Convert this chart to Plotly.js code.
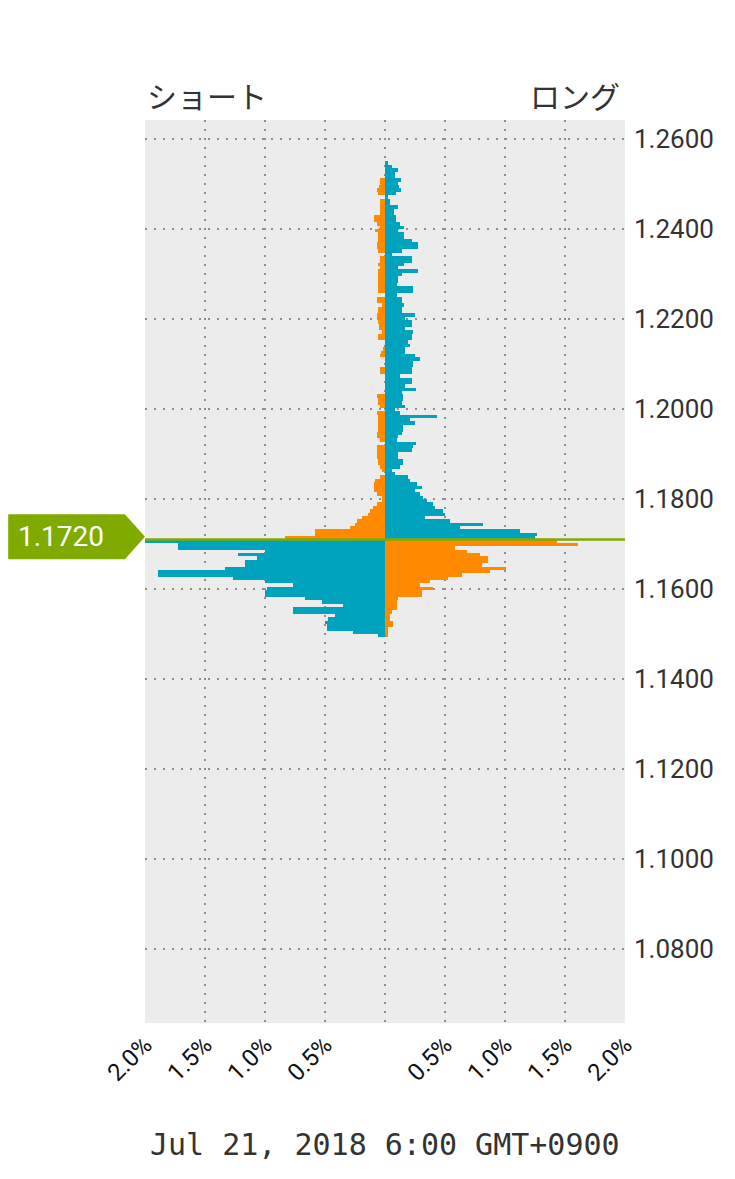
<!DOCTYPE html>
<html><head><meta charset="utf-8">
<script src="https://cdn.plot.ly/plotly-3.0.1.min.js"></script>
<style>html,body{margin:0;padding:0;background:#fff;}#chart{width:735px;height:1179px;}</style>
</head><body><div id="chart"></div>
<script>
// ---- data ----
const bucketTop = 1.2550;        // upper edge of the first price bucket
const bucketStep = 0.00075;      // bucket height (price)
const currentPrice = 1.1710;     // position of the current-price line
const currentPriceLabel = '1.1720';
// percent of positions per bucket, from top bucket downward
const longPct = [
0.025,0.058,0.108,0.083,0.083,0.133,0.108,0.117,0.133,0.092,
0.025,0.042,0.042,0.108,0.075,0.075,0.092,0.092,0.125,0.158,
0.108,0.158,0.158,0.225,0.275,0.275,0.142,0.058,0.225,0.225,
0.158,0.108,0.275,0.142,0.108,0.108,0.1,0.233,0.233,0.1,
0.142,0.142,0.158,0.142,0.142,0.25,0.167,0.225,0.225,0.167,
0.233,0.225,0.225,0.192,0.208,0.167,0.167,0.25,0.292,0.233,
0.233,0.225,0.225,0.125,0.225,0.225,0.167,0.258,0.142,0.15,
0.15,0.142,0.167,0.083,0.125,0.433,0.208,0.25,0.15,0.15,
0.142,0.108,0.1,0.258,0.233,0.225,0.108,0.108,0.15,0.15,
0.125,0.058,0.083,0.192,0.208,0.267,0.308,0.25,0.292,0.317,
0.35,0.4,0.417,0.483,0.5,0.333,0.542,0.817,0.625,1.125,
1.267,1.25,
2.0,1.725,1.725,1.0,1.225,1.067,1.167,1.167,1.333,1.892,
1.892,1.267,1.0,0.767,0.983,1.0,1.0,0.667,0.525,0.35,
0.767,0.767,0.417,0.475,0.5,0.483,0.483,0.267,0.058
];
const shortPct = [
0,0,0,0,0,0.042,0.042,0.05,0.067,0.058,
0,0.042,0.042,0.042,0.042,0.042,0.092,0.092,0.067,0.042,
0.083,0.058,0.058,0.058,0.067,0.067,0.058,0,0.042,0.042,
0.058,0.042,0.058,0.058,0.058,0.058,0.058,0.058,0.058,0,
0.067,0.067,0.025,0.058,0.058,0.067,0.067,0.058,0.05,0.05,
0.025,0.058,0.058,0,0,0.017,0.033,0.042,0,0,
0,0.042,0.042,0,0,0,0,0,0,0.067,
0.058,0.058,0.042,0,0.067,0.058,0.058,0.058,0.058,0.058,
0.067,0.067,0.042,0,0.067,0.067,0.067,0.067,0.058,0.058,
0.042,0.025,0,0.042,0.083,0.092,0.092,0.092,0.067,0.025,
0.025,0.067,0.1,0.125,0.142,0.192,0.233,0.25,0.292,0.583,
0.583,0.833,
1.433,1.608,0.583,0.683,0.792,0.858,0.858,0.808,1.008,0.875,
0.642,0.525,0.375,0.292,0.4,0.308,0.308,0.108,0.1,0.1,
0.1,0.058,0.042,0.042,0.067,0.067,0.025,0.025,0.025
];
const xTickVals = [-2,-1.5,-1,-0.5,0,0.5,1,1.5,2];
const xTickText = ['2.0%','1.5%','1.0%','0.5%','','0.5%','1.0%','1.5%','2.0%'];
const yTickVals = [1.26,1.24,1.22,1.20,1.18,1.16,1.14,1.12,1.10,1.08];
const yTickText = ['1.2600','1.2400','1.2200','1.2000','1.1800','1.1600','1.1400','1.1200','1.1000','1.0800'];
const sideLabels = ['ショート','ロング'];
const dateLabel = 'Jul 21, 2018 6:00 GMT+0900';

// ---- build traces ----
const TEAL = '#00a3bd', ORANGE = '#ff8a00', GREEN = '#7fab00';
const centers = longPct.map((_, i) => bucketTop - (i + 0.5) * bucketStep);
const longX = longPct.map((v, i) => centers[i] > currentPrice ? v : -v);
const shortX = shortPct.map((v, i) => centers[i] > currentPrice ? -v : v);

const traces = [
  {type:'bar', orientation:'h', y:centers, x:longX, width:bucketStep,
   marker:{color:TEAL, line:{width:0}}, hoverinfo:'skip'},
  {type:'bar', orientation:'h', y:centers, x:shortX, width:bucketStep,
   marker:{color:ORANGE, line:{width:0}}, hoverinfo:'skip'}
];

const gridStyle = {showgrid:true, gridcolor:'#8f8f8f', gridwidth:2, griddash:'2px,7px', zeroline:false, showline:false, ticks:''};
const lblC = currentPrice + 0.0006;
const layout = {
  width:735, height:1179,
  margin:{l:145, r:110, t:120, b:156, pad:0},
  paper_bgcolor:'#ffffff', plot_bgcolor:'#ececec',
  showlegend:false, barmode:'overlay', bargap:0,
  xaxis:Object.assign({range:[-2,2], tickmode:'array', tickvals:xTickVals, ticktext:xTickText,
    tickangle:-45, ticklabelstandoff:2, tickfont:{family:'Roboto, sans-serif', size:24, color:'#111'}, fixedrange:true}, gridStyle),
  yaxis:Object.assign({range:[1.06356,1.26422], side:'right', tickmode:'array', tickvals:yTickVals, ticktext:yTickText,
    ticklabelstandoff:8, tickfont:{family:'Roboto, sans-serif', size:26, color:'#333'}, fixedrange:true}, gridStyle),
  shapes:[
    {type:'line', xref:'paper', yref:'y', x0:0, x1:1, y0:currentPrice, y1:currentPrice,
     line:{color:GREEN, width:2.5}, layer:'above'},
    {type:'path', xref:'paper', yref:'y',
     path:`M -0.285 ${lblC+0.0050} L -0.042 ${lblC+0.0050} L 0 ${lblC} L -0.042 ${lblC-0.0050} L -0.285 ${lblC-0.0050} Z`,
     fillcolor:GREEN, line:{width:0}, layer:'above'}
  ],
  annotations:[
    {xref:'paper', yref:'y', x:-0.175, y:lblC, text:currentPriceLabel, showarrow:false,
     font:{family:'Roboto, sans-serif', size:28, color:'#ffffff'}, xanchor:'center', yanchor:'middle'},
    {xref:'paper', yref:'paper', x:0, y:1.0277, text:sideLabels[0], showarrow:false,
     font:{family:'Noto Sans CJK JP', size:30, color:'#333'}, xanchor:'left', yanchor:'middle'},
    {xref:'paper', yref:'paper', x:0.994, y:1.0277, text:sideLabels[1], showarrow:false,
     font:{family:'Noto Sans CJK JP', size:30, color:'#333'}, xanchor:'right', yanchor:'middle'},
    {xref:'paper', yref:'paper', x:0.5, y:-0.1351, text:dateLabel, showarrow:false,
     font:{family:'DejaVu Sans Mono, monospace', size:30, color:'#333'}, xanchor:'center', yanchor:'middle'}
  ]
};
Plotly.newPlot('chart', traces, layout, {staticPlot:true, displayModeBar:false});
</script></body></html>
